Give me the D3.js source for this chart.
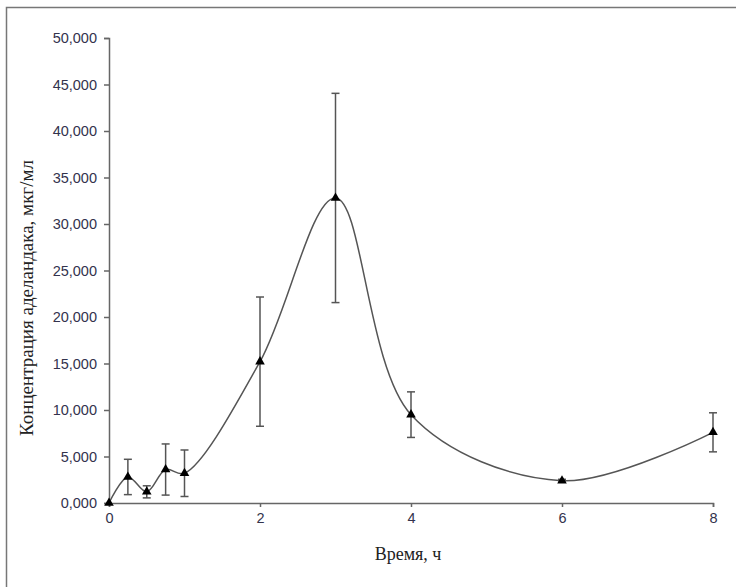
<!DOCTYPE html>
<html>
<head>
<meta charset="utf-8">
<script src="https://cdn.jsdelivr.net/npm/d3@7"></script>
<style>
  body { margin: 0; background: #fff; }
  .tick text { font-family: "Liberation Sans", Arial, sans-serif; font-size: 14.5px; fill: #33334d; }
  .axis-label { font-family: "Liberation Serif", "Times New Roman", serif; font-size: 18px; fill: #222; }
</style>
</head>
<body>
<div id="chart"></div>
<script>
// time, h
var times = [0, 0.25, 0.5, 0.75, 1, 2, 3, 4, 6, 8];
// mean concentration
var means = [0, 2800, 1200, 3600, 3200, 15200, 32800, 9500, 2400, 7600];
// standard deviation
var errors = [0, 1900, 650, 2750, 2500, 6950, 11250, 2450, 150, 2100];
var xTicks = [0, 2, 4, 6, 8];
var yTicks = d3.range(0, 50001, 5000);

var data = times.map(function(t, i){ return { t: t, v: means[i], e: errors[i] }; });

var margin = { top: 38, right: 23, bottom: 84, left: 109 };
var W = 736, H = 587;
var width = W - margin.left - margin.right;
var height = H - margin.top - margin.bottom;

var svg = d3.select("#chart").append("svg")
  .attr("width", W)
  .attr("height", H);

// outer frame
svg.append("rect")
  .attr("x", 6.5).attr("y", 7.5)
  .attr("width", 760).attr("height", 620)
  .attr("fill", "none")
  .attr("stroke", "#777")
  .attr("stroke-width", 1.5);

var g = svg.append("g")
  .attr("transform", "translate(" + margin.left + "," + margin.top + ")");

var x = d3.scaleLinear().domain([0, 8]).range([0, width]);
var y = d3.scaleLinear().domain([0, 50000]).range([height, 0]);

var yAxis = d3.axisLeft(y).tickValues(yTicks).tickSize(5).tickPadding(7)
  .tickFormat(function(d){ return (d / 1000) + ",000"; });

g.append("g").attr("class", "y-axis").call(yAxis);
g.append("g").attr("class", "x-axis")
  .attr("transform", "translate(0," + height + ")")
  .call(d3.axisBottom(x).tickValues(xTicks).tickSize(4).tickPadding(6).tickFormat(d3.format("d")));

g.selectAll(".domain").attr("stroke", "#666").attr("stroke-width", 1.5);
g.selectAll(".tick line").attr("stroke", "#666").attr("stroke-width", 1.5);

// smoothed line
var line = d3.line()
  .x(function(d){ return x(d.t); })
  .y(function(d){ return y(d.v); })
  .curve(d3.curveCatmullRom.alpha(0.5));

g.append("path")
  .datum(data)
  .attr("fill", "none")
  .attr("stroke", "#555")
  .attr("stroke-width", 1.5)
  .attr("d", line);

// error bars
var eb = g.selectAll(".err").data(data.filter(function(d){ return d.e > 0; }))
  .enter().append("g").attr("class", "err")
  .attr("stroke", "#555").attr("stroke-width", 1.5);

eb.append("line")
  .attr("x1", function(d){ return x(d.t); })
  .attr("x2", function(d){ return x(d.t); })
  .attr("y1", function(d){ return y(d.v + d.e); })
  .attr("y2", function(d){ return y(d.v - d.e); });

[1, -1].forEach(function(s){
  eb.append("line")
    .attr("x1", function(d){ return x(d.t) - 4; })
    .attr("x2", function(d){ return x(d.t) + 4; })
    .attr("y1", function(d){ return y(d.v + s * d.e); })
    .attr("y2", function(d){ return y(d.v + s * d.e); });
});

// markers
g.selectAll(".marker").data(data)
  .enter().append("path")
  .attr("class", "marker")
  .attr("transform", function(d){ return "translate(" + x(d.t) + "," + y(d.v) + ")"; })
  .attr("d", d3.symbol().type(d3.symbolTriangle).size(40))
  .attr("fill", "#000");

// labels
svg.append("text")
  .attr("class", "axis-label")
  .attr("text-anchor", "middle")
  .attr("x", 408).attr("y", 560)
  .text("Время, ч");

svg.append("text")
  .attr("class", "axis-label")
  .attr("text-anchor", "middle")
  .style("font-size", "19px")
  .attr("transform", "translate(33," + 298 + ")rotate(-90)")
  .text("Концентрация аделандака, мкг/мл");
</script>
</body>
</html>
